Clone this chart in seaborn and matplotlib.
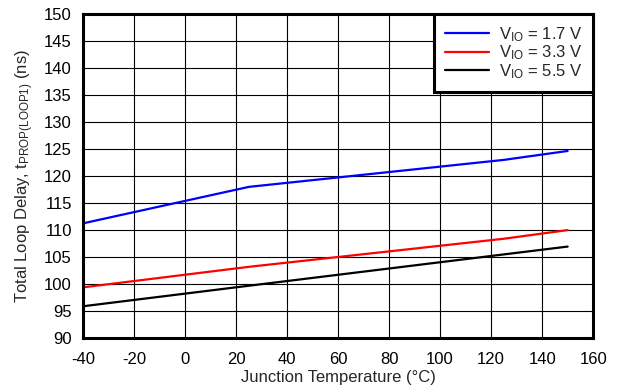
import matplotlib
matplotlib.use("Agg")
import matplotlib.pyplot as plt
import seaborn as sns
import pandas as pd

temps = [-40, 25, 125, 150]
v17 = [111.25, 118.0, 123.0, 124.65]
v33 = [99.4, 103.2, 108.4, 110.0]
v55 = [95.9, 99.7, 105.5, 106.95]
series_labels = [r"V$_{\mathrm{IO}}$ = 1.7 V", r"V$_{\mathrm{IO}}$ = 3.3 V", r"V$_{\mathrm{IO}}$ = 5.5 V"]
colors = ["#0000FF", "#FF0000", "#000000"]
xticks = list(range(-40, 161, 20))
yticks = list(range(90, 151, 5))

rows = []
for lab, vals in zip(series_labels, [v17, v33, v55]):
    for t, v in zip(temps, vals):
        rows.append({"T": t, "delay": v, "series": lab})
df = pd.DataFrame(rows)

sns.set_style("white")
plt.rcParams["font.family"] = ["Liberation Sans", "DejaVu Sans"]
plt.rcParams["mathtext.fontset"] = "custom"
plt.rcParams["mathtext.rm"] = "Liberation Sans"
plt.rcParams["mathtext.it"] = "Liberation Sans"
plt.rcParams["mathtext.bf"] = "Liberation Sans"
plt.rcParams["axes.unicode_minus"] = False

fs = 12
fig = plt.figure(figsize=(6.29, 3.9), dpi=100)
ax = fig.add_axes([0.132, 0.133, 0.811, 0.831])
sns.lineplot(data=df, x="T", y="delay", hue="series", palette=colors,
             hue_order=series_labels, ax=ax, linewidth=1.6, legend=True)

ax.set_xlim(-40, 160)
ax.set_ylim(90, 150)
ax.set_xticks(xticks)
ax.set_yticks(yticks)
ax.grid(True, color="black", linewidth=0.8)
ax.set_axisbelow(True)
for s in ax.spines.values():
    s.set_color("black")
    s.set_linewidth(2.2)
ax.tick_params(axis="y", labelsize=fs, colors="black", length=0, pad=8)
ax.tick_params(axis="x", labelsize=fs, colors="black", length=0, pad=10)
ax.set_xlabel("Junction Temperature (°C)", fontsize=fs, labelpad=2)
ax.set_ylabel(r"Total Loop Delay, t$_{\mathrm{PROP(LOOP1)}}$ (ns)", fontsize=fs, labelpad=6)

leg = ax.legend(loc="upper right", fontsize=fs, frameon=True, fancybox=False,
                borderaxespad=0, handlelength=2.6, handletextpad=0.6,
                labelspacing=0.0, borderpad=0.65, edgecolor="black")
leg.get_frame().set_linewidth(2.2)
leg.get_frame().set_alpha(1)
for line in leg.get_lines():
    line.set_linewidth(1.6)

fig.savefig("out.png", dpi=100)
